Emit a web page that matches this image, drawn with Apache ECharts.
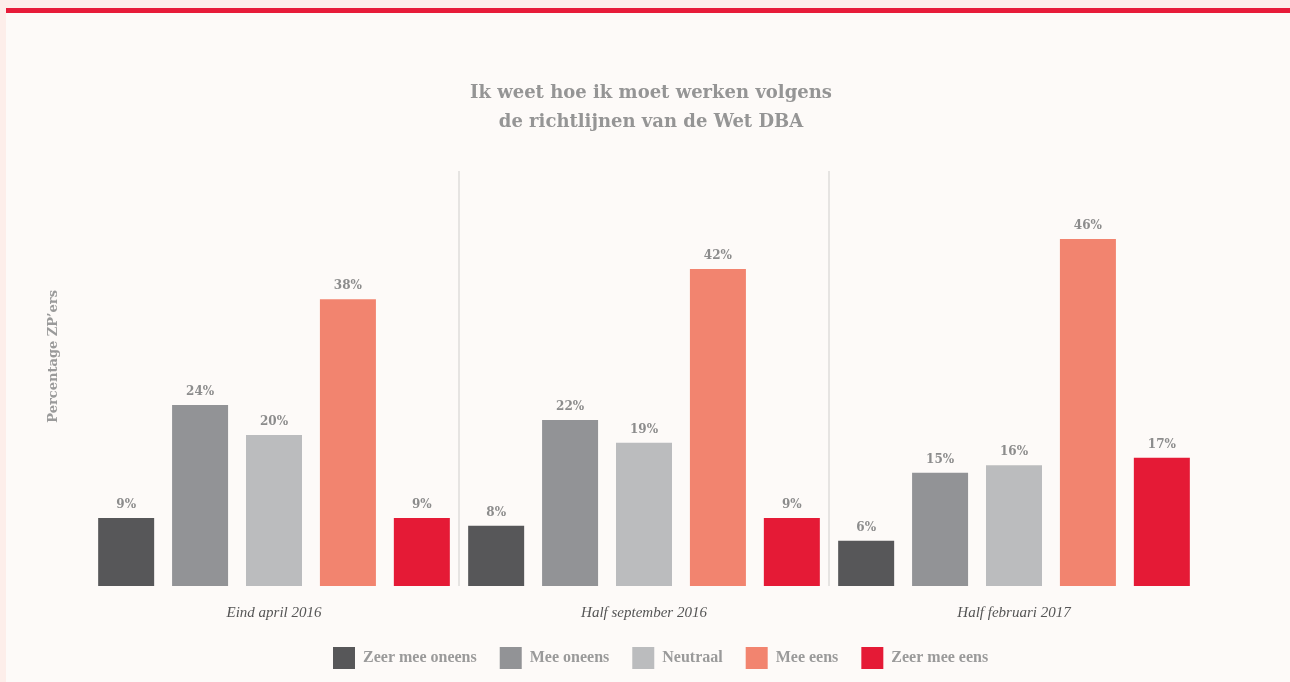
<!DOCTYPE html>
<html>
<head>
<meta charset="utf-8">
<script src="https://cdn.jsdelivr.net/npm/echarts@6/dist/echarts.min.js"></script>
<style>
  body { margin: 0; background: #fdeeea; overflow: hidden; }
  #frame { position: absolute; left: 6px; top: 8px; right: 0; bottom: 0; background: #fdfaf8; border-top: 5px solid #e71b39; }
  #main { position: absolute; left: 0; top: 0; width: 1290px; height: 682px; }
</style>
</head>
<body>
<div id="frame"></div>
<div id="main"></div>
<script>
// categorieen en waarden (percentages)
var categories = ['Eind april 2016', 'Half september 2016', 'Half februari 2017']
var seriesNames = ['Zeer mee oneens', 'Mee oneens', 'Neutraal', 'Mee eens', 'Zeer mee eens']
var zeerMeeOneens = [9, 8, 6]
var meeOneens = [24, 22, 15]
var neutraal = [20, 19, 16]
var meeEens = [38, 42, 46]
var zeerMeeEens = [9, 9, 17]
var colors = ['#575759', '#929396', '#bbbcbe', '#f2846f', '#e51a36']

var chart = echarts.init(document.getElementById('main'))

var values = [zeerMeeOneens, meeOneens, neutraal, meeEens, zeerMeeEens]
var series = []
for (var i = 0; i < seriesNames.length; i++) {
  series.push({
    name: seriesNames[i],
    type: 'bar',
    barWidth: 56,
    barGap: '32%',
    itemStyle: { color: colors[i] },
    label: {
      show: true,
      position: 'top',
      distance: 7,
      formatter: '{c}%',
      color: '#8c8c8c',
      fontFamily: 'DejaVu Serif',
      fontSize: 12,
      fontWeight: 'bold'
    },
    data: values[i]
  })
}

chart.setOption({
  backgroundColor: 'transparent',
  animation: false,
  color: colors,
  title: {
    text: 'Ik weet hoe ik moet werken volgens\nde richtlijnen van de Wet DBA',
    left: 646,
    top: 74,
    textAlign: 'center',
    textStyle: {
      color: '#959595',
      fontFamily: 'DejaVu Serif',
      fontWeight: 'bold',
      fontSize: 18,
      lineHeight: 29
    }
  },
  legend: {
    data: seriesNames,
    left: 328,
    top: 642,
    icon: 'rect',
    itemWidth: 22,
    itemHeight: 22,
    itemGap: 23,
    textStyle: {
      color: '#9a9a9a',
      fontFamily: 'Liberation Serif',
      fontWeight: 'bold',
      fontSize: 16,
      padding: [0, 0, 0, 3]
    }
  },
  graphic: [{
    type: 'text',
    left: 47,
    top: 290,
    rotation: Math.PI / 2,
    style: {
      text: 'Percentage ZP\u2019ers',
      fill: '#9a9a9a',
      font: 'bold 13px "DejaVu Serif"'
    }
  }],
  grid: {
    left: 89,
    right: 91,
    top: 171,
    bottom: 96
  },
  xAxis: {
    type: 'category',
    data: categories,
    axisLine: { show: false },
    axisTick: { show: false },
    axisLabel: {
      margin: 20,
      color: '#555555',
      fontFamily: 'Liberation Serif',
      fontStyle: 'italic',
      fontSize: 15
    },
    splitLine: {
      show: true,
      showMinLine: false,
      showMaxLine: false,
      lineStyle: { color: '#e6e4e2', width: 2 }
    }
  },
  yAxis: {
    type: 'value',
    min: 0,
    max: 55,
    show: false
  },
  series: series
})

window.onresize = function () {
  chart.resize()
}
</script>
</body>
</html>
